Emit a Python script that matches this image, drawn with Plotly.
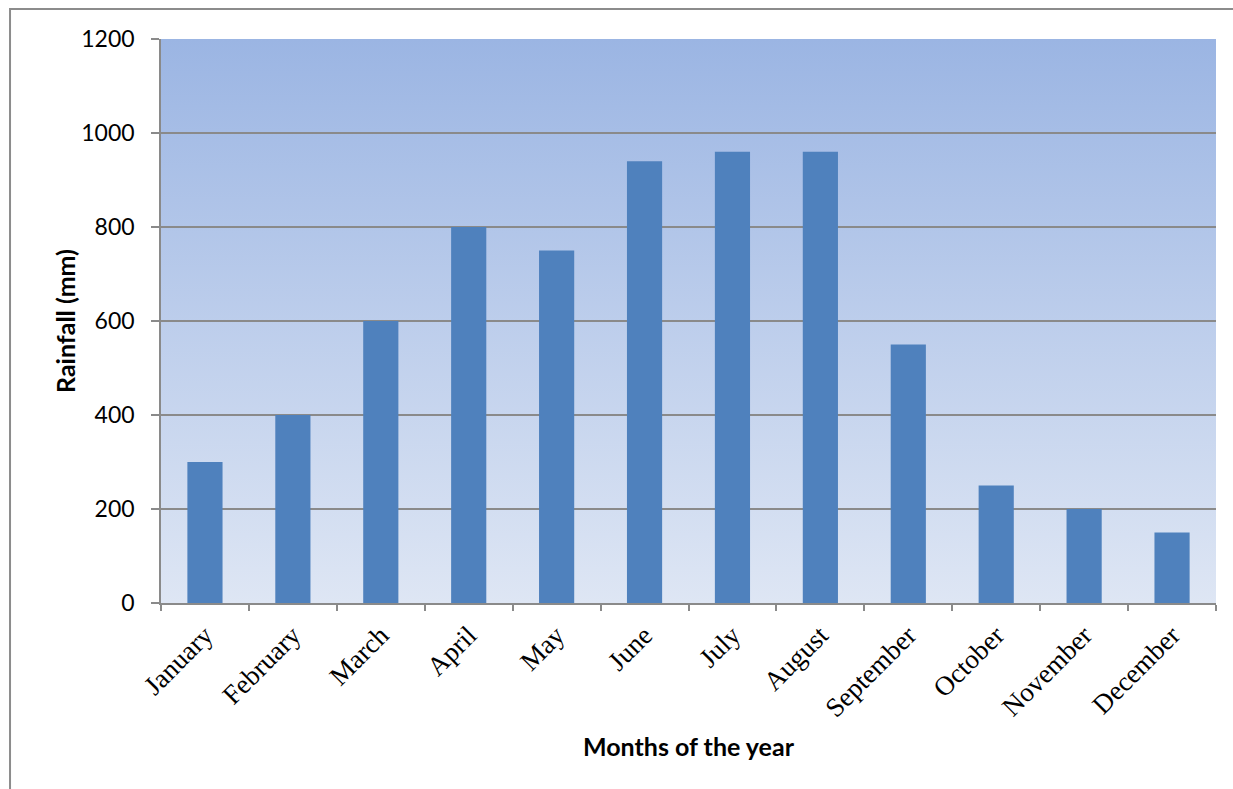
import base64
import plotly.graph_objects as go

# Monthly rainfall data
months = ["January", "February", "March", "April", "May", "June",
          "July", "August", "September", "October", "November", "December"]
rainfall_mm = [300, 400, 600, 800, 750, 940, 960, 960, 550, 250, 200, 150]
y_ticks = [0, 200, 400, 600, 800, 1000, 1200]

BAR_COLOR = "#4f81bd"
GRID_COLOR = "#8a8a8a"

# Vertical gradient used as the plot-area fill
gradient_svg = (
    '<svg xmlns="http://www.w3.org/2000/svg" width="100" height="100" '
    'preserveAspectRatio="none">'
    '<defs><linearGradient id="g" x1="0" y1="0" x2="0" y2="1">'
    '<stop offset="0" stop-color="#9bb5e3"/>'
    '<stop offset="1" stop-color="#dee6f4"/>'
    '</linearGradient></defs>'
    '<rect width="100" height="100" fill="url(#g)"/></svg>'
)
gradient_uri = "data:image/svg+xml;base64," + base64.b64encode(gradient_svg.encode()).decode()

fig = go.Figure(
    go.Bar(
        x=months,
        y=rainfall_mm,
        marker=dict(color=BAR_COLOR, line=dict(width=0)),
        hoverinfo="x+y",
    )
)

fig.update_layout(
    width=1233,
    height=789,
    margin=dict(l=161, r=17, t=39, b=186),
    paper_bgcolor="white",
    plot_bgcolor="rgba(0,0,0,0)",
    bargap=0.6,
    showlegend=False,
    images=[dict(
        source=gradient_uri,
        xref="x domain", yref="y domain",
        x=0, y=1, sizex=1, sizey=1,
        xanchor="left", yanchor="top",
        sizing="stretch", layer="below",
    )],
    xaxis=dict(
        tickangle=-45,
        tickfont=dict(family="Liberation Serif, Times New Roman, serif", size=27, color="black"),
        ticks="outside",
        tickson="boundaries",
        ticklen=6,
        tickwidth=1.5,
        tickcolor=GRID_COLOR,
        ticklabelstandoff=4,
        showline=True,
        linecolor=GRID_COLOR,
        linewidth=1.5,
        showgrid=False,
        fixedrange=True,
    ),
    yaxis=dict(
        range=[0, 1200],
        tickvals=y_ticks,
        tickfont=dict(family="Lato, Open Sans, sans-serif", size=23, color="black"),
        ticks="outside",
        ticklen=8,
        tickwidth=1.5,
        tickcolor=GRID_COLOR,
        ticklabelstandoff=12,
        showline=True,
        linecolor=GRID_COLOR,
        linewidth=1.5,
        showgrid=True,
        gridcolor=GRID_COLOR,
        gridwidth=1.5,
        zeroline=False,
        fixedrange=True,
    ),
    annotations=[
        dict(text="<b>Months of the year</b>", xref="paper", yref="paper",
             x=0.5, y=-0.2535, xanchor="center", yanchor="middle", showarrow=False,
             font=dict(family="Lato, Open Sans, sans-serif", size=25, color="black")),
        dict(text="<b>Rainfall (mm)</b>", xref="paper", yref="paper",
             x=-0.091, y=0.5, xanchor="center", yanchor="middle", showarrow=False,
             textangle=-90,
             font=dict(family="Lato, Open Sans, sans-serif", size=25, color="black")),
    ],
    shapes=[
        # outer chart frame
        dict(type="rect", xref="paper", yref="paper",
             x0=-0.1431, y0=-0.5, x1=1.2, y1=1.0532,
             line=dict(color="#8c8c8c", width=2), fillcolor="rgba(0,0,0,0)",
             layer="above"),
    ],
)

fig.write_html("out.html")
